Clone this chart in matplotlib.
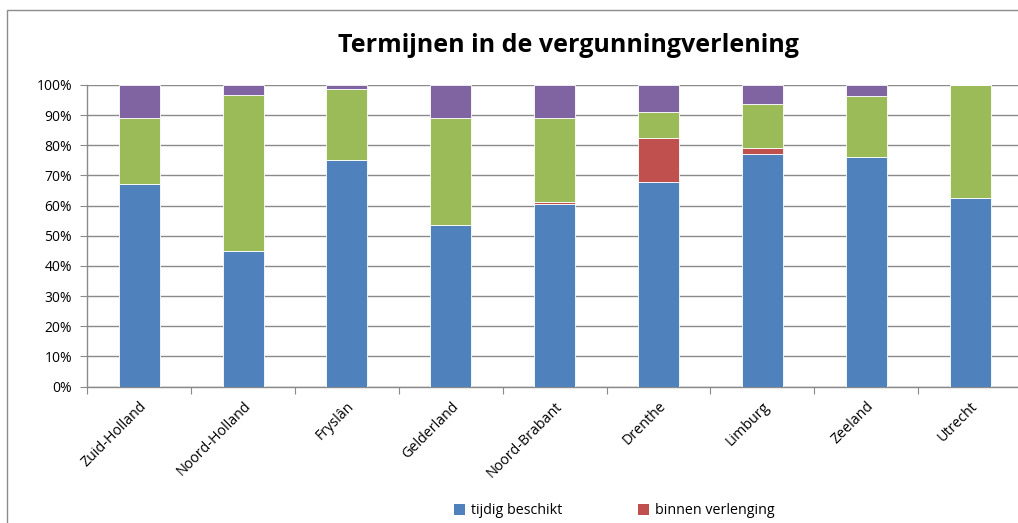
import matplotlib
matplotlib.use("Agg")
import matplotlib.pyplot as plt
from matplotlib.patches import Rectangle, Patch
from matplotlib.ticker import PercentFormatter
import numpy as np

categories = ["Zuid-Holland", "Noord-Holland", "Fryslân", "Gelderland", "Noord-Brabant",
              "Drenthe", "Limburg", "Zeeland", "Utrecht"]
tijdig = [67.2, 44.8, 75.1, 53.7, 60.4, 67.7, 77.2, 76.0, 62.5]
binnen = [0.0, 0.0, 0.0, 0.0, 0.9, 14.6, 1.8, 0.0, 0.0]
groen = [21.9, 51.9, 23.7, 35.4, 27.8, 8.9, 14.7, 20.4, 37.5]
paars = [10.9, 3.3, 1.2, 10.9, 10.9, 8.8, 6.3, 3.6, 0.0]
series_names = ["tijdig beschikt", "binnen verlenging"]
colors = ["#4F81BD", "#C0504D", "#9BBB59", "#8064A2"]
title = "Termijnen in de vergunningverlening"

plt.rcParams['font.family'] = ['Open Sans', 'DejaVu Sans']

W, H = 1018, 523
fig = plt.figure(figsize=(W / 100, H / 100), dpi=100)
fig.patch.set_facecolor("white")

# chart area border (cropped at right and bottom)
fig.add_artist(Rectangle((7 / W, -0.05), 1.2, (H - 10) / H + 0.05, transform=fig.transFigure,
                         fill=False, edgecolor="#8c8c8c", linewidth=1.0))

ax = fig.add_axes([87.3 / W, (H - 386.5) / H, 934.7 / W, 301.5 / H])
x = np.arange(len(categories))
bw = 0.395
bottom = np.zeros(len(categories))
for vals, c in zip([tijdig, binnen, groen, paars], colors):
    ax.bar(x, vals, bw, bottom=bottom, color=c, edgecolor="#ffffff", linewidth=0.6, zorder=3)
    bottom = bottom + np.array(vals)

ax.set_xlim(-0.5, len(categories) - 0.5)
ax.set_ylim(0, 100)
ax.set_yticks(np.arange(0, 101, 10))
ax.yaxis.set_major_formatter(PercentFormatter(decimals=0))
ax.grid(axis="y", color="#8a8a8a", linewidth=1.0, zorder=0)
ax.set_axisbelow(True)
ax.set_xticks(np.arange(-0.5, len(categories), 1.0), minor=False)
ax.set_xticklabels([])
ax.set_xticks(x, minor=True)
ax.set_xticklabels(categories, minor=True, rotation=45, ha="right", va="top",
                   rotation_mode="anchor", fontsize=10.3)
ax.tick_params(axis="x", which="minor", length=0, pad=9)
ax.tick_params(axis="x", which="major", length=5, color="#8a8a8a", direction="out")
ax.tick_params(axis="y", length=5, color="#8a8a8a", direction="out", labelsize=10, pad=6)
for s in ["top", "right"]:
    ax.spines[s].set_visible(False)
for s in ["left", "bottom"]:
    ax.spines[s].set_color("#8a8a8a")
    ax.spines[s].set_linewidth(1.0)

fig.text(568 / W, 1 - 46 / H, title, ha="center", va="center", fontsize=18, fontweight="bold")

handles = [Patch(facecolor=colors[0]), Patch(facecolor=colors[1])]
fig.legend(handles, series_names, loc="center left", bbox_to_anchor=(441 / W, 1 - 511 / H),
           ncol=2, frameon=False, fontsize=10.3, handlelength=0.75, handleheight=0.75,
           handletextpad=0.45, columnspacing=5.3)

fig.savefig("out.png", dpi=100)
